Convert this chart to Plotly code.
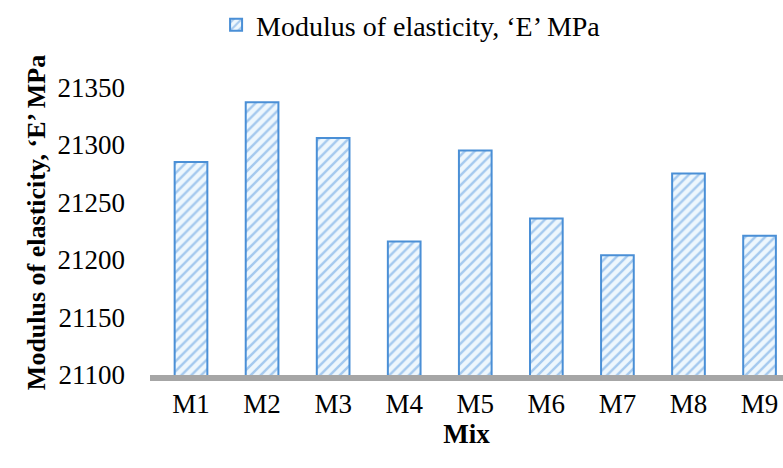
import plotly.graph_objects as go

mixes = ["M1", "M2", "M3", "M4", "M5", "M6", "M7", "M8", "M9"]
modulus = [21285, 21337, 21306, 21216, 21295, 21236, 21204, 21275, 21221]
y_ticks = [21100, 21150, 21200, 21250, 21300, 21350]
series_name = "Modulus of elasticity, ‘E’ MPa"

font = "Liberation Serif, Times New Roman, serif"

fig = go.Figure()
fig.add_trace(go.Bar(
    x=mixes, y=modulus, name=series_name,
    width=0.46,
    marker=dict(
        color="#dff0fb",
        line=dict(color="#4a8fd6", width=2),
        pattern=dict(shape="/", fgcolor="#5b9be0", bgcolor="#eef7fd", size=7, solidity=0.35),
    ),
))

fig.update_layout(
    width=783, height=468,
    margin=dict(l=150, r=0, t=70, b=93),
    paper_bgcolor="white", plot_bgcolor="white",
    font=dict(family=font, size=27, color="black"),
    showlegend=True,
    legend=dict(orientation="h", x=0.525, xanchor="center", xref="container",
                y=1.0, yanchor="top", yref="container",
                font=dict(size=28, family=font), itemwidth=30),
)
fig.update_xaxes(
    range=[-0.577, 8.33],
    showgrid=False, showline=True, linecolor="#a6a6a6", linewidth=6,
    ticks="", tickfont=dict(size=27, family=font),
    title=dict(text="<b>Mix</b>", font=dict(size=27, family=font), standoff=8),
)
fig.update_yaxes(
    range=[21100, 21365],
    tickvals=y_ticks, ticktext=[str(v) for v in y_ticks],
    showgrid=False, zeroline=False, showline=False, ticks="",
    tickfont=dict(size=27, family=font), ticklabelstandoff=24,
    title=dict(text="<b>Modulus of elasticity, ‘E’ MPa</b>", font=dict(size=26, family=font), standoff=4),
)

fig.write_html("out.html")
